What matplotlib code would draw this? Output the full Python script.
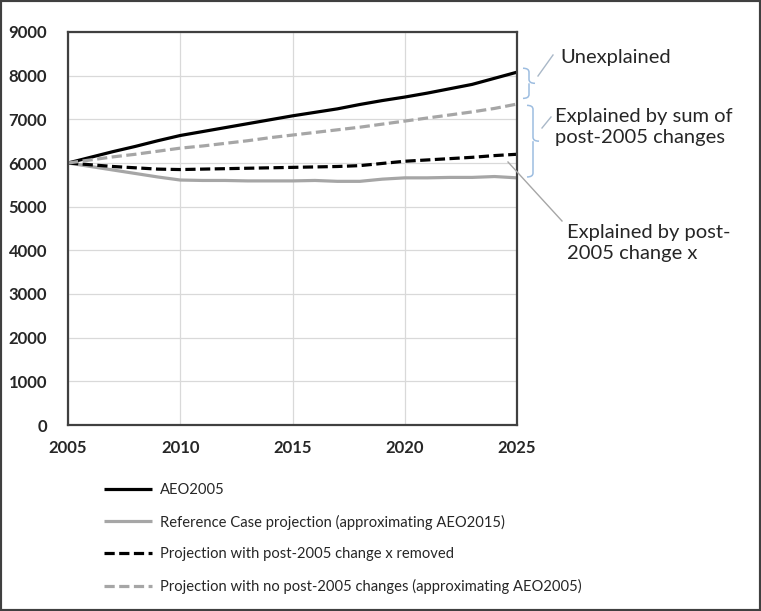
import matplotlib.pyplot as plt
from matplotlib.lines import Line2D
from matplotlib.patches import Rectangle, PathPatch
from matplotlib.path import Path
from matplotlib.transforms import blended_transform_factory

plt.rcParams["font.family"] = ["Lato", "DejaVu Sans"]

YEARS = list(range(2005, 2026))
AEO2005 = [6000, 6130, 6260, 6380, 6510, 6630, 6720, 6810, 6900, 6990, 7080,
           7160, 7240, 7340, 7430, 7510, 7600, 7700, 7800, 7940, 8080]
REFERENCE = [6000, 5920, 5840, 5760, 5680, 5610, 5600, 5600, 5590, 5590, 5590,
             5600, 5580, 5580, 5630, 5660, 5660, 5670, 5670, 5690, 5660]
X_REMOVED = [6000, 5960, 5920, 5890, 5860, 5850, 5860, 5870, 5880, 5890, 5900,
             5910, 5920, 5940, 5990, 6040, 6070, 6100, 6130, 6170, 6200]
NO_CHANGES = [6000, 6070, 6140, 6200, 6270, 6340, 6390, 6450, 6510, 6580, 6640,
              6700, 6760, 6820, 6890, 6960, 7030, 7100, 7170, 7250, 7350]

LABELS = [
    "AEO2005",
    "Reference Case projection (approximating AEO2015)",
    "Projection with post-2005 change x removed",
    "Projection with no post-2005 changes (approximating AEO2005)",
]

X_TICKS = [2005, 2010, 2015, 2020, 2025]
Y_TICKS = list(range(0, 9001, 1000))

BLACK = "#000000"
GRAY = "#a6a6a6"
BRACE = "#9dbde0"
CONNECT = "#a9b8c8"

fig = plt.figure(figsize=(7.61, 6.11), dpi=100)
ax = fig.add_axes([68 / 761, 1 - 425 / 611, 449 / 761, 393 / 611])

dash = (0, (3.2, 1.4))
ax.plot(YEARS, AEO2005, color=BLACK, lw=2.3, label=LABELS[0], solid_capstyle="butt")
ax.plot(YEARS, REFERENCE, color=GRAY, lw=2.3, label=LABELS[1], solid_capstyle="butt")
ax.plot(YEARS, X_REMOVED, color=BLACK, lw=2.3, ls=dash, label=LABELS[2])
ax.plot(YEARS, NO_CHANGES, color=GRAY, lw=2.3, ls=dash, label=LABELS[3])

ax.set_xlim(2005, 2025)
ax.set_ylim(0, 9000)
ax.set_xticks(X_TICKS)
ax.set_yticks(Y_TICKS)
ax.grid(True, color="#d9d9d9", lw=0.9)
ax.set_axisbelow(True)
ax.tick_params(length=0, labelsize=12, pad=11, colors="#262626")
ax.tick_params(axis="y", pad=15)
for lab in ax.get_xticklabels() + ax.get_yticklabels():
    lab.set_fontweight("bold")
for sp in ax.spines.values():
    sp.set_color("#404040")
    sp.set_linewidth(1.6)

# curly braces to the right of the plot
tr = blended_transform_factory(ax.transAxes, ax.transData)


def brace(x0, w, y_top, y_bot, r):
    ymid = (y_top + y_bot) / 2
    verts = [
        (x0, y_top), (x0 + w, y_top), (x0 + w, y_top - r),
        (x0 + w, ymid + r),
        (x0 + w, ymid), (x0 + 2 * w, ymid),
        (x0 + w, ymid), (x0 + w, ymid - r),
        (x0 + w, y_bot + r),
        (x0 + w, y_bot), (x0, y_bot),
    ]
    codes = [Path.MOVETO, Path.CURVE3, Path.CURVE3, Path.LINETO,
             Path.CURVE3, Path.CURVE3, Path.MOVETO, Path.CURVE3,
             Path.LINETO, Path.CURVE3, Path.CURVE3]
    ax.add_patch(PathPatch(Path(verts, codes), fill=False, edgecolor=BRACE,
                           lw=1.1, transform=tr, clip_on=False))


brace(1 + 6 / 449, 6 / 449, 8170, 7480, 90)
brace(1 + 10 / 449, 6 / 449, 7320, 5680, 90)

# connector lines and notes, in figure pixels
def px(x, y):
    return x / 761, 1 - y / 611


for (xa, ya), (xb, yb), c in [((538, 76), (553, 55), CONNECT),
                              ((542, 128), (551, 117), CONNECT),
                              ((508, 162), (562, 221), GRAY)]:
    (fx0, fy0), (fx1, fy1) = px(xa, ya), px(xb, yb)
    fig.add_artist(Line2D([fx0, fx1], [fy0, fy1], color=c, lw=1.0,
                          transform=fig.transFigure))

notes = [
    (560, 57, "Unexplained"),
    (555, 127, "Explained by sum of\npost-2005 changes"),
    (567, 243, "Explained by post-\n2005 change x"),
]
for x, y, s in notes:
    fx, fy = px(x, y)
    fig.text(fx, fy, s, fontsize=14.5, color="#262626", ha="left", va="center",
             linespacing=1.35)

fig.legend(loc="upper left", bbox_to_anchor=(98 / 761, 1 - 477 / 611),
           frameon=False, fontsize=10.6, handlelength=3.3, handletextpad=0.5,
           labelspacing=1.2, borderaxespad=0, labelcolor="#262626")

fig.add_artist(Rectangle((0, 0), 1, 1, transform=fig.transFigure, fill=False,
                         edgecolor="#404040", lw=3))

fig.savefig("out.png", dpi=100, facecolor="white")
